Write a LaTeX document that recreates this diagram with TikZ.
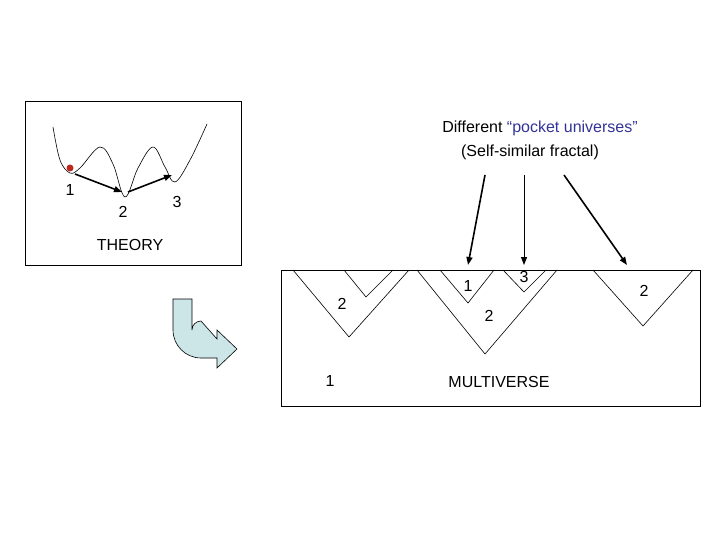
\documentclass[tikz,border=0pt]{standalone}
\usepackage{fontspec}
\setmainfont{Liberation Sans}
\usetikzlibrary{arrows.meta}
\definecolor{pocket}{RGB}{51,51,153}
\definecolor{arrfill}{RGB}{204,230,232}
\begin{document}
\begin{tikzpicture}[x=1pt,y=-1pt,
  lbl/.style={font=\fontsize{16}{18}\selectfont, inner sep=0pt},
  box/.style={draw, line width=0.9pt},
  thin/.style={line width=0.6pt},
  pt/.style={-{Triangle[length=8pt,width=6pt]}, line width=1.6pt},
  ptl/.style={-{Triangle[length=8pt,width=6pt]}, line width=1pt}]
\useasboundingbox (0,0) rectangle (720,540);
% theory box
\node[box, minimum width=216pt, minimum height=164pt, inner sep=0pt] (theory) at (133,183) {};
\draw[thin] plot[smooth, tension=0.6] coordinates {(53,127) (60,160) (70,173) (80,168) (100,147) (113,164) (125,197) (138,168) (153,147) (165,167) (175,182) (190,160) (207,124)};
\node[circle, fill={rgb,255:red,190;green,40;blue,30}, inner sep=0pt, minimum size=7pt] (ball) at (70,168) {};
\coordinate (m1) at (75,174);
\coordinate (m2) at (122,192);
\coordinate (m2b) at (128,192);
\coordinate (m3) at (172,175);
\draw[pt] (m1) -- (m2);
\draw[pt] (m2b) -- (m3);
\node[lbl] (t1) at (70,190) {1};
\node[lbl] (t2) at (123,212) {2};
\node[lbl] (t3) at (177,202) {3};
\node[lbl] (tth) at (130,245) {THEORY};
% curved arrow
\draw[fill=arrfill, line width=0.6pt] (173,299) -- (192,299) -- (192,330) arc[start angle=180,end angle=270,radius=9] -- (217,339) -- (217,330) -- (237,349) -- (217,368) -- (217,358) -- (201,358) arc[start angle=90,end angle=180,radius=28] -- cycle;
% multiverse box
\node[box, minimum width=419pt, minimum height=136pt, inner sep=0pt] (multi) at (490.5,338) {};
\draw[thin] (293,270) -- (349,337) -- (409,270);
\draw[thin] (344,270) -- (366,297) -- (393,270);
\draw[thin] (417,270) -- (485,354) -- (557,270);
\draw[thin] (440,270) -- (468,303) -- (494,270);
\draw[thin] (503,270) -- (524,292) -- (546,270);
\draw[thin] (593,270) -- (643,326) -- (693,270);
\node[lbl] (l2a) at (342,304) {2};
\node[lbl] (l1a) at (468,286) {1};
\node[lbl] (l3a) at (524,277) {3};
\node[lbl] (l2b) at (489,316) {2};
\node[lbl] (l2c) at (644,291) {2};
\node[lbl] (l1b) at (330,381) {1};
\node[lbl] (mv) at (499,382) {MULTIVERSE};
% title
\node[lbl] (title) at (540,128) {Different \textcolor{pocket}{“pocket universes”}};
\node[lbl] (sub) at (530,152) {(Self-similar fractal)};
\coordinate (a1s) at (485,175); \coordinate (a1e) at (468,265);
\coordinate (a2s) at (524,175); \coordinate (a2e) at (524,265);
\coordinate (a3s) at (564,175); \coordinate (a3e) at (627,265);
\draw[pt] (a1s) -- (a1e);
\draw[ptl] (a2s) -- (a2e);
\draw[pt] (a3s) -- (a3e);
\end{tikzpicture}
\end{document}
